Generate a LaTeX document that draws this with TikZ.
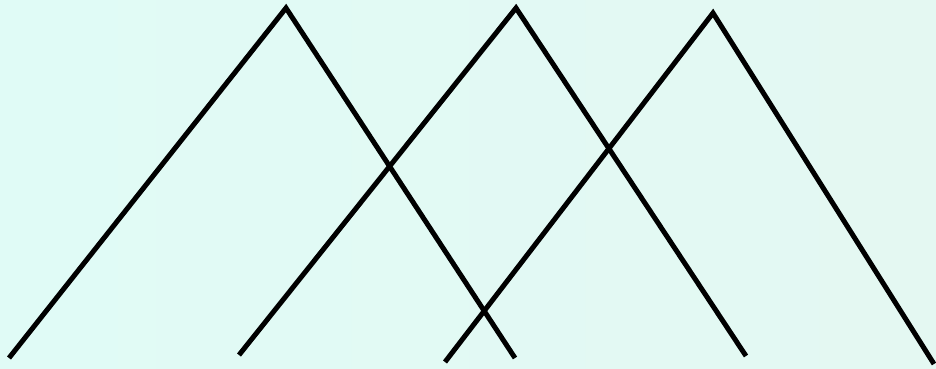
\documentclass[tikz,border=0pt]{standalone}
\definecolor{bgA}{RGB}{224,251,246}
\definecolor{bgB}{RGB}{228,248,242}
\tikzset{tri/.style={draw=black,line width=5pt,line join=miter,line cap=butt}}
\begin{document}
\begin{tikzpicture}[x=1pt,y=-1pt]
\shade[left color=bgA,right color=bgB] (0,0) rectangle (936,368);
\useasboundingbox (0,0) rectangle (936,368);
\draw[tri] (9,358) -- (286,8) -- (515,358);
\draw[tri] (239,355) -- (516,8) -- (746,356);
\draw[tri] (445,362) -- (713,13) -- (934,364);
\end{tikzpicture}
\end{document}
